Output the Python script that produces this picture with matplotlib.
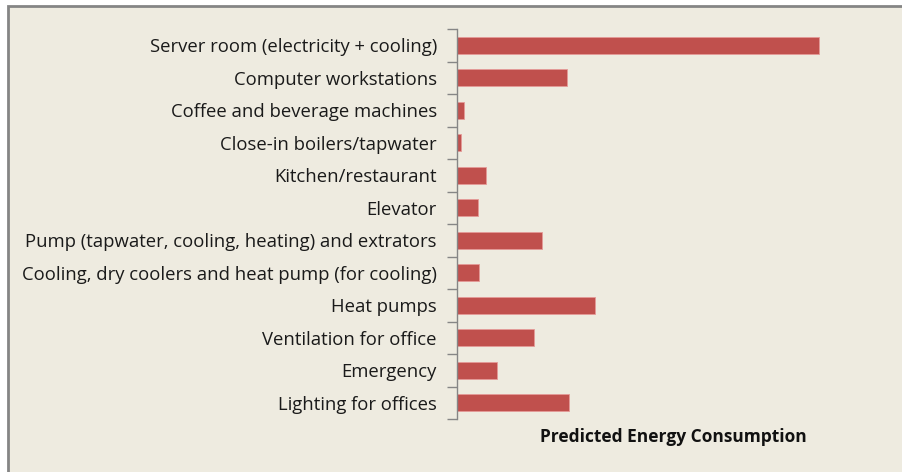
import numpy as np
import matplotlib.pyplot as plt
from matplotlib.patches import Rectangle

categories = [
    "Server room (electricity + cooling)",
    "Computer workstations",
    "Coffee and beverage machines",
    "Close-in boilers/tapwater",
    "Kitchen/restaurant",
    "Elevator",
    "Pump (tapwater, cooling, heating) and extrators",
    "Cooling, dry coolers and heat pump (for cooling)",
    "Heat pumps",
    "Ventilation for office",
    "Emergency",
    "Lighting for offices",
]
values = [362, 110, 7, 4, 29, 21, 85, 22, 138, 77, 40, 112]
title = "Predicted Energy Consumption"

BG = "#EEEBE0"
BAR = "#C0504D"
W, H = 902, 472

plt.rcParams["font.family"] = ["Open Sans", "DejaVu Sans"]

fig = plt.figure(figsize=(W / 100, H / 100), dpi=100, facecolor="white")

# chart frame (only top and left edges fall inside the picture)
fig.patches.append(Rectangle((8 / W, -0.1), 1.2, 1 - 5.5 / H + 0.1,
                             transform=fig.transFigure, facecolor=BG,
                             edgecolor="#858585", linewidth=2.0, zorder=-5))

ax = fig.add_axes([457 / W, 1 - 419 / H, 423 / W, 390 / H])
ax.set_facecolor("none")

n = len(categories)
y = np.arange(n)[::-1]
ax.barh(y, values, height=0.52, color=BAR, edgecolor="#E59A98", linewidth=0.6)

ax.set_ylim(-0.5, n - 0.5)
ax.set_xlim(0, 423)

ax.set_yticks(y)
ax.set_yticklabels(categories, fontsize=13.3, color="#1a1a1a")
ax.tick_params(axis="y", which="major", length=0, pad=14.4)
ax.set_yticks(np.arange(n + 1) - 0.5, minor=True)
ax.tick_params(axis="y", which="minor", length=7, width=1, color="#868686")
ax.set_xticks([])

for s in ["top", "right", "bottom"]:
    ax.spines[s].set_visible(False)
ax.spines["left"].set_color("#868686")
ax.spines["left"].set_linewidth(1)

fig.text(673 / W, 1 - 437 / H, title, ha="center", va="center",
         fontsize=12.5, fontweight="bold", color="#111111")

fig.savefig("out.png", dpi=100, facecolor=fig.get_facecolor())
